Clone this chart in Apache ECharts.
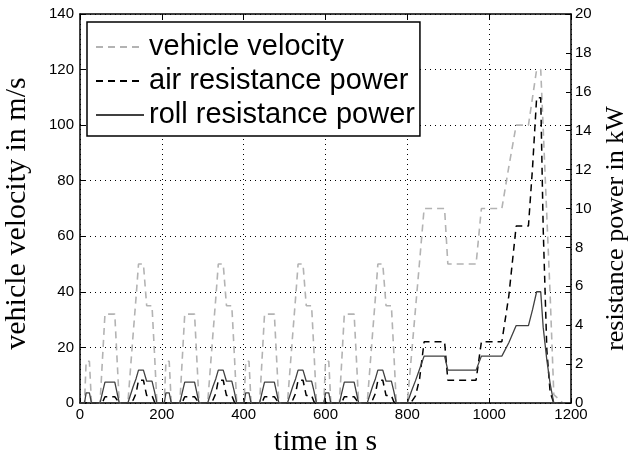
<!DOCTYPE html>
<html>
<head>
<meta charset="utf-8">
<script src="https://cdn.jsdelivr.net/npm/echarts@6/dist/echarts.min.js"></script>
<style>
	html, body { margin: 0; padding: 0; background: #fff; }
	#chart { width: 639px; height: 450px; }
</style>
</head>
<body>
<div id="chart"></div>
<script>
//One ECE city cycle (time in s, velocity, air power kW, roll power kW), repeated 4 times
let eceTime = [0, 11, 15, 23, 28, 49, 55, 61, 85, 96, 117, 130, 137, 143, 155, 163, 176, 182, 188, 195];
let eceVelocity = [0, 0, 15, 15, 0, 0, 16, 32, 32, 0, 0, 25, 38, 50, 50, 35, 35, 18, 0, 0];
let eceAir = [0, 0, 0.03, 0.03, 0, 0, 0.04, 0.32, 0.32, 0, 0, 0.15, 0.5, 1.17, 1.17, 0.38, 0.38, 0.06, 0, 0];
let eceRoll = [0, 0, 0.52, 0.52, 0, 0, 0.55, 1.07, 1.07, 0, 0, 0.85, 1.25, 1.69, 1.69, 1.12, 1.12, 0.6, 0, 0];
let eceStarts = [0, 195, 390, 585];

//Extra urban part
let eudcTime = [780, 800, 810, 820, 830, 841, 891, 899, 968, 981, 1031, 1048, 1066, 1096, 1106, 1116, 1126, 1132, 1141, 1149, 1158, 1180];
let eudcVelocity = [0, 0, 17, 34, 51, 70, 70, 50, 50, 70, 70, 85, 100, 100, 110, 120, 120, 99, 67, 39, 3, 0];
let eudcAir = [0, 0, 0.05, 0.37, 1.25, 3.15, 3.15, 1.17, 1.17, 3.15, 3.15, 5.5, 9.1, 9.1, 12.1, 15.7, 15.7, 9.0, 2.7, 0.55, 0, 0];
let eudcRoll = [0, 0, 0.6, 1.15, 1.75, 2.41, 2.41, 1.69, 1.69, 2.41, 2.41, 3.1, 3.98, 3.98, 4.8, 5.72, 5.72, 3.9, 2.2, 1.0, 0, 0];

let seriesNames = ['vehicle velocity', 'air resistance power', 'roll resistance power'];

function buildSeries(eceValues, eudcValues) {
	let out = [];
	for (let c = 0; c < eceStarts.length; c++) {
		for (let i = 0; i < eceTime.length; i++) {
			if (c > 0 && i == 0) continue; // same point as end of previous cycle
			out.push([eceStarts[c] + eceTime[i], eceValues[i]]);
		}
	}
	for (let i = 1; i < eudcTime.length; i++) {
		out.push([eudcTime[i], eudcValues[i]]);
	}
	return out;
}

let chart = echarts.init(document.getElementById('chart'));

let sans = 'Liberation Sans';
let serif = 'Liberation Serif';
let dotted = { color: '#000', width: 1, type: [1, 4] };
let plain = function (v) { return String(v); };
let border = { show: true, onZero: false, lineStyle: { color: '#000', width: 1.5 } };
let tickIn = { show: true, inside: true, length: 5, lineStyle: { color: '#000' } };

chart.setOption({
	animation: false,
	backgroundColor: '#fff',
	grid: { left: 80, right: 68, top: 14, bottom: 47, outerBoundsMode: 'none', containLabel: false },
	legend: {
		orient: 'vertical',
		left: 87,
		top: 22,
		padding: [8, 5, 4, 8],
		itemWidth: 48,
		itemHeight: 14,
		itemGap: 0,
		borderColor: '#000',
		borderWidth: 1.5,
		backgroundColor: '#fff',
		itemStyle: { opacity: 0 },
		textStyle: { fontFamily: sans, fontSize: 29, color: '#000', lineHeight: 34 },
		data: seriesNames
	},
	xAxis: [{
		type: 'value', min: 0, max: 1200, interval: 200,
		name: 'time in s', nameLocation: 'middle', nameGap: 14,
		nameTextStyle: { fontFamily: serif, fontSize: 30, color: '#000' },
		axisLine: border,
		axisTick: tickIn,
		axisLabel: { fontFamily: sans, fontSize: 15, color: '#000', margin: 4, formatter: plain },
		splitLine: { show: true, lineStyle: dotted }
	}, {
		//top border with mirrored ticks
		type: 'value', position: 'top', min: 0, max: 1200, interval: 200,
		axisLine: border,
		axisTick: tickIn,
		axisLabel: { show: false },
		splitLine: { show: false }
	}],
	yAxis: [{
		type: 'value', position: 'left', min: 0, max: 140, interval: 20,
		name: 'vehicle velocity in m/s', nameLocation: 'middle', nameGap: 48, nameRotate: 90,
		nameTextStyle: { fontFamily: serif, fontSize: 30, color: '#000', padding: [0, 10, 0, 0] },
		axisLine: border,
		axisTick: tickIn,
		axisLabel: { fontFamily: sans, fontSize: 15, color: '#000', margin: 6, formatter: plain },
		splitLine: { show: true, lineStyle: dotted }
	}, {
		type: 'value', position: 'right', min: 0, max: 20, interval: 2,
		name: 'resistance power in kW', nameLocation: 'middle', nameGap: 32, nameRotate: 90,
		nameTextStyle: { fontFamily: serif, fontSize: 26, color: '#000', padding: [0, 40, 0, 0] },
		axisLine: border,
		axisTick: tickIn,
		axisLabel: { fontFamily: sans, fontSize: 15, color: '#000', margin: 4, formatter: plain },
		splitLine: { show: false }
	}, {
		//left axis ticks mirrored on the right side
		type: 'value', position: 'right', min: 0, max: 140, interval: 20,
		axisLine: { show: false, onZero: false },
		axisTick: tickIn,
		axisLabel: { show: false },
		splitLine: { show: false }
	}],
	series: [{
		name: seriesNames[0], type: 'line', yAxisIndex: 0,
		symbol: 'none', showSymbol: false,
		data: buildSeries(eceVelocity, eudcVelocity),
		lineStyle: { color: '#b3b3b3', width: 1.6, type: [7, 5] },
		itemStyle: { color: '#b3b3b3' }
	}, {
		name: seriesNames[1], type: 'line', yAxisIndex: 1,
		symbol: 'none', showSymbol: false,
		data: buildSeries(eceAir, eudcAir),
		lineStyle: { color: '#000', width: 1.5, type: [7, 5] },
		itemStyle: { color: '#000' }
	}, {
		name: seriesNames[2], type: 'line', yAxisIndex: 1,
		symbol: 'none', showSymbol: false,
		data: buildSeries(eceRoll, eudcRoll),
		lineStyle: { color: '#404040', width: 1.3 },
		itemStyle: { color: '#404040' }
	}]
});
</script>
</body>
</html>
